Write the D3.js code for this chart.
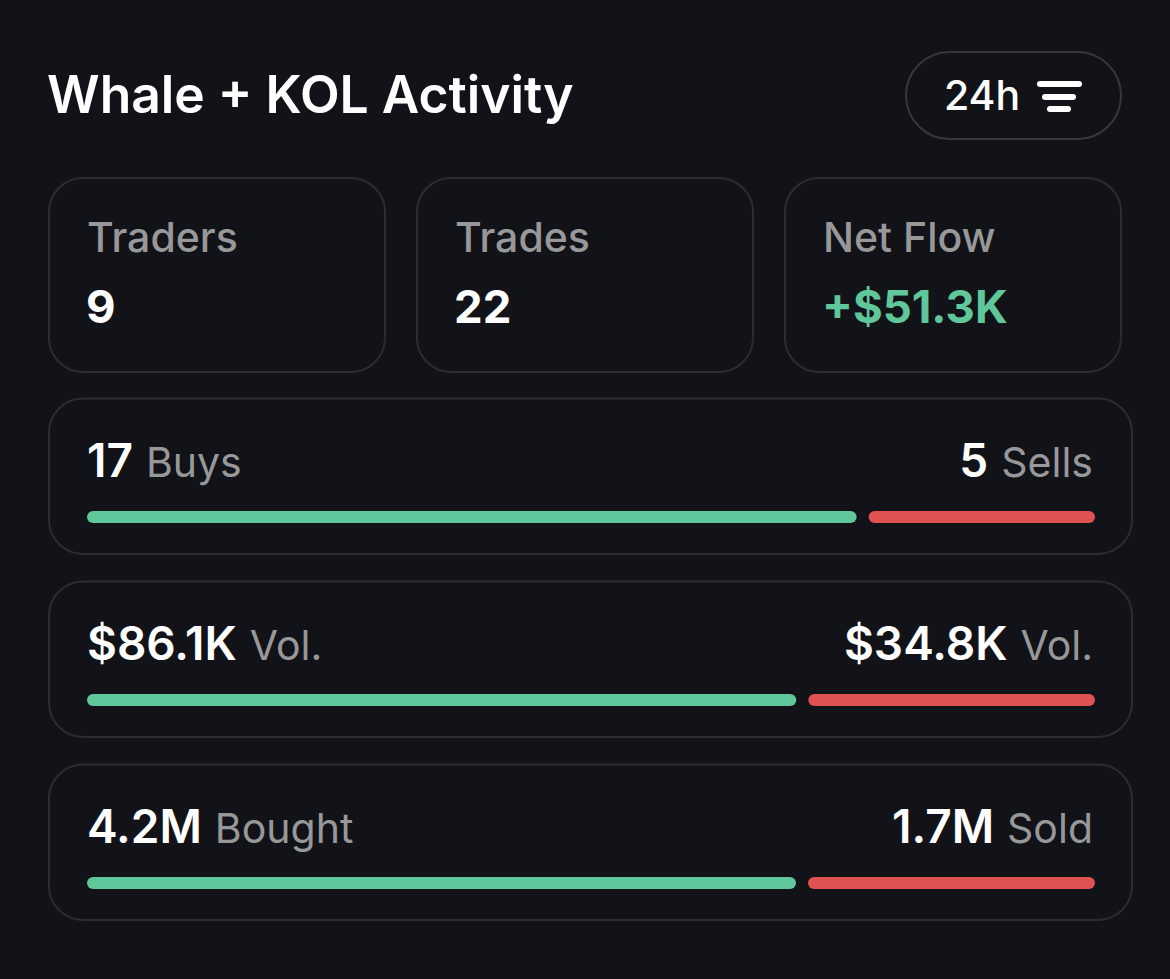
<!DOCTYPE html>
<html>
<head>
<meta charset="utf-8">
<script src="https://cdn.jsdelivr.net/npm/d3@7"></script>
<style>
  html, body { margin: 0; padding: 0; background: #121318; }
  svg { display: block; }
  text { font-family: Inter, "Noto Sans", sans-serif; }
</style>
</head>
<body>
<div id="chart"></div>
<script>
const title = "Whale + KOL Activity";
const period = "24h";

// stat cards
const statLabels = ["Traders", "Trades", "Net Flow"];
const statValues = ["9", "22", "+$51.3K"];

// bar rows
const buyLabels = ["17", "$86.1K", "4.2M"];
const buyUnits = ["Buys", "Vol.", "Bought"];
const sellLabels = ["5", "$34.8K", "1.7M"];
const sellUnits = ["Sells", "Vol.", "Sold"];
const buyValues = [17, 86.1, 4.2];
const sellValues = [5, 34.8, 1.7];

const width = 1170, height = 979;
const green = "#5fc79a", red = "#e05252", border = "#2c2d31",
      grey = "#98989a", white = "#ffffff";

const svg = d3.select("#chart")
  .append("svg")
  .attr("width", width)
  .attr("height", height)
  .attr("viewBox", [0, 0, width, height]);

svg.append("rect").attr("width", width).attr("height", height).attr("fill", "#121318");

svg.append("text")
  .attr("x", 47).attr("y", 113)
  .attr("font-size", 51.6).attr("font-weight", 600)
  .attr("fill", white)
  .text(title);

// filter pill
svg.append("rect")
  .attr("x", 906).attr("y", 52).attr("width", 215).attr("height", 87).attr("rx", 43.5)
  .attr("fill", "none").attr("stroke", "#38383b").attr("stroke-width", 2);
svg.append("text")
  .attr("x", 944).attr("y", 110)
  .attr("font-size", 41).attr("font-weight", 500).attr("fill", white)
  .text(period);
svg.append("g")
  .selectAll("line")
  .data([[1040, 1079, 84], [1045, 1073, 97], [1050, 1068, 109]])
  .join("line")
  .attr("x1", d => d[0]).attr("x2", d => d[1])
  .attr("y1", d => d[2]).attr("y2", d => d[2])
  .attr("stroke", white).attr("stroke-width", 6).attr("stroke-linecap", "round");

// stat cards
const cardX = d3.scalePoint().domain(statLabels).range([49, 785]);
const cards = svg.append("g")
  .selectAll("g")
  .data(statLabels)
  .join("g")
  .attr("transform", d => `translate(${cardX(d)},178)`);
cards.append("rect")
  .attr("width", 336).attr("height", 194).attr("rx", 34)
  .attr("fill", "none").attr("stroke", border).attr("stroke-width", 2);
cards.append("text")
  .attr("x", 38).attr("y", 74)
  .attr("font-size", 41).attr("font-weight", 500).attr("fill", grey)
  .text(d => d);
cards.append("text")
  .attr("x", 37).attr("y", 145)
  .attr("font-size", 45.5).attr("font-weight", 700)
  .attr("fill", (d, i) => i === 2 ? green : white)
  .text((d, i) => statValues[i]);

// bar rows
const rowY = d3.scalePoint().domain(d3.range(buyLabels.length)).range([398.5, 764.5]);
const rows = svg.append("g")
  .selectAll("g")
  .data(d3.range(buyLabels.length))
  .join("g")
  .attr("transform", i => `translate(49,${rowY(i)})`);
rows.append("rect")
  .attr("width", 1083).attr("height", 155.5).attr("rx", 34)
  .attr("fill", "none").attr("stroke", border).attr("stroke-width", 2);

const buyText = rows.append("text").attr("x", 38).attr("y", 78).attr("font-size", 46);
buyText.append("tspan").attr("font-weight", 600).attr("fill", white).text(i => buyLabels[i]);
buyText.append("tspan").attr("dx", 13).attr("font-size", 41).attr("fill", grey).text(i => buyUnits[i]);

const sellText = rows.append("text").attr("x", 1044).attr("y", 78).attr("font-size", 46).attr("text-anchor", "end");
sellText.append("tspan").attr("font-weight", 600).attr("fill", white).text(i => sellLabels[i]);
sellText.append("tspan").attr("dx", 13).attr("font-size", 41).attr("fill", grey).text(i => sellUnits[i]);

// share of the track, the 12px gap between the bars is not part of it
const gap = 12;
const share = d3.scaleLinear().domain([0, 1]).range([0, 1008 - gap]);
const frac = i => buyValues[i] / (buyValues[i] + sellValues[i]);
rows.append("rect")
  .attr("x", 38).attr("y", 112.5)
  .attr("width", i => share(frac(i)))
  .attr("height", 12).attr("rx", 6).attr("fill", green);
rows.append("rect")
  .attr("x", i => 38 + share(frac(i)) + gap).attr("y", 112.5)
  .attr("width", i => share(1) - share(frac(i)))
  .attr("height", 12).attr("rx", 6).attr("fill", red);
</script>
</body>
</html>
